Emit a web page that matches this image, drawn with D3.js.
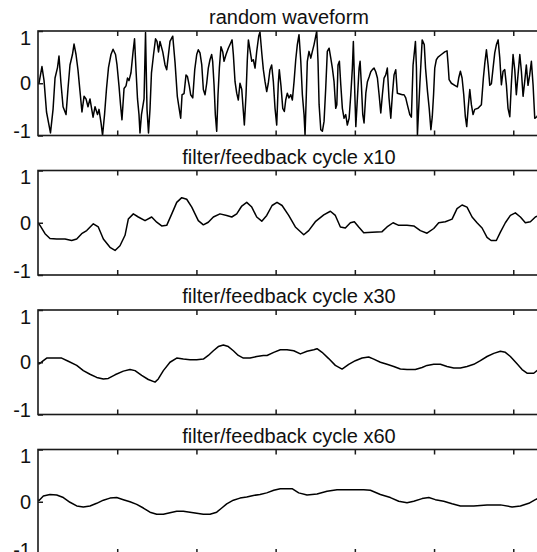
<!DOCTYPE html>
<html>
<head>
<meta charset="utf-8">
<script src="https://cdn.jsdelivr.net/npm/d3@7"></script>
<style>
  body { margin: 0; background: #fff; }
  svg { display: block; font-family: "Liberation Sans", Arial, sans-serif; }
</style>
</head>
<body>
<svg id="chart"></svg>
<script>
const panelTitles = ["random waveform", "filter/feedback cycle x10", "filter/feedback cycle x30", "filter/feedback cycle x60"];
const yTickValues = [-1, 0, 1];
const xTickValues = [80, 160, 240, 320, 400, 480];

// [sample, value]
const randomWave = [[0,0],[1,0],[4,0.32],[6.1,0.05],[8.6,-0.55],[11.1,-0.8],[12.6,-0.95],[15.2,-0.5],[17.2,0.1],[19.7,0.3],[21.2,0.52],[23.2,0],[25.3,-0.45],[28.3,-0.6],[30.3,-0.1],[32.3,0.35],[34.8,0.55],[36.4,0.75],[38.4,0.55],[40.4,0.25],[42.4,-0.15],[44.4,-0.55],[46.5,-0.25],[48.5,-0.3],[50.5,-0.45],[52.5,-0.3],[55.6,-0.65],[57.6,-0.45],[60.1,-0.6],[61.6,-0.5],[63.6,-0.75],[65.2,-1],[67.2,-0.6],[69.2,-0.1],[71.2,0.3],[73.7,0.55],[75.8,0.65],[78.3,0.55],[79.8,0.35],[81.8,-0.05],[83.3,-0.4],[84.8,-0.7],[86.9,-0.1],[88.9,-0.05],[90.4,0.1],[91.9,0.05],[93.9,0.2],[96,0.6],[97.5,0.85],[99,0.25],[100.5,-0.3],[102,-0.6],[103,-0.95],[104.5,-0.6],[107.1,-0.3],[108.6,0.97],[110.1,-0.5],[111.6,-0.95],[113.1,-0.5],[114.6,0.2],[116.7,0.55],[118.7,0.85],[120.2,0.8],[121.7,0.6],[123.2,0.8],[126,0.6],[128.3,0.35],[130,0.26],[133.3,0.8],[136.1,0.9],[138.4,0.4],[140.7,-0.25],[142.7,-0.5],[144.1,-0.67],[145.5,-0.22],[147.5,-0.2],[149.5,0.16],[150.9,0.13],[152.8,-0.05],[154.2,-0.22],[156.3,-0.28],[158.3,0.26],[160.3,0.55],[161.9,0.64],[163.6,0.58],[165.4,0.35],[167,-0.12],[168.7,-0.22],[170.4,0],[172,0.29],[173.7,0.45],[175.4,0.55],[176.4,0.42],[177.8,-0.03],[179.1,-0.6],[180.5,-0.92],[181.8,-0.22],[183.2,0.3],[184.8,0.7],[186.6,0.6],[187.9,0.42],[189.9,0.55],[192.2,0.67],[194.6,0.77],[196,0.83],[197.3,0.55],[199,0.03],[200.7,-0.19],[202.3,-0.32],[204,0],[205.8,-0.12],[207.4,-0.54],[208.4,-0.8],[210.1,-0.22],[211.4,0.45],[212.5,0.83],[214.1,0.64],[215.9,0.42],[217.5,0.45],[219.2,0.29],[220.9,0.61],[222.9,0.9],[224.2,0.98],[226,0.58],[227.6,0.26],[229.3,0.03],[231,-0.16],[232.6,0],[234.3,0.26],[236,0.35],[237.7,0.03],[239.4,-0.48],[241.1,-0.8],[242.7,0],[243.7,0.26],[245.4,-0.05],[247.2,-0.48],[248.8,-0.54],[250.2,-0.32],[251.8,-0.19],[253.5,-0.28],[255.3,-0.22],[256.9,-0.32],[258.6,0.03],[260.3,0.45],[261.9,0.74],[263.6,0.93],[265.4,0.42],[267,-0.22],[268.7,-0.6],[269.7,-0.99],[271,-0.22],[272,0.42],[273.7,0.61],[275.5,0.48],[277.1,0.61],[278.8,0.74],[280.5,0.9],[281.5,1],[282.8,0.42],[283.9,-0.41],[285.6,-0.89],[287.2,-0.92],[288.9,-0.73],[290.6,-0.09],[292.2,0.61],[294,0.67],[295.7,0.48],[297.3,0.29],[299,0.03],[300.7,-0.48],[301.8,-0.41],[303,0.35],[304.4,0.42],[305.8,-0.03],[307.4,-0.48],[309.1,-0.67],[310.8,-0.6],[312.4,-0.8],[314.2,-0.67],[315.9,-0.22],[317.5,0.29],[318.5,0.8],[320,-0.22],[321,-0.83],[322.6,-0.28],[324.3,0.29],[325.3,0.42],[326.6,-0.03],[328,-0.6],[329.3,-0.76],[331.1,-0.19],[332.7,0.03],[334.4,0.12],[336.1,0.22],[337.7,0.26],[339.4,0.29],[341.1,0.22],[342.8,0.1],[344.5,-0.22],[346.2,-0.57],[347.8,-0.22],[349.5,0.1],[351.2,0.16],[352.8,0.29],[354.5,-0.28],[356.3,-0.67],[357.9,-0.22],[359.6,0.16],[361.3,0.26],[362.9,-0.19],[368,-0.22],[369.7,-0.22],[371.4,-0.28],[373,-0.41],[375.5,-0.6],[377.1,-0.65],[378.8,0.35],[381.2,0.8],[382.2,0.3],[383.2,-0.99],[385.7,0],[388,0.83],[390.1,0.74],[391.4,0.29],[393.4,-0.16],[395.1,-0.48],[396.8,-0.89],[398.2,-0.64],[399.5,-0.22],[400.7,0.29],[402.3,0.45],[404,0.5],[407.4,0.55],[410.8,0.6],[413.1,0.62],[414.2,0.36],[415.2,0.07],[417.5,0],[420.9,-0.04],[423.5,-0.07],[424.9,0.1],[426.6,0.23],[428.3,0.1],[430,-0.22],[431.6,-0.64],[433,-0.83],[434.4,-0.48],[436.1,-0.12],[437.7,-0.41],[439.4,-0.6],[441.1,-0.5],[444.4,-0.48],[447.8,-0.41],[449.8,0.1],[451.3,0.39],[452.9,0.64],[454.6,0.35],[456.3,-0.04],[457.9,-0.01],[459.6,0.29],[461.3,0.58],[463,0.74],[464.7,0.83],[466.4,0.48],[468,-0.03],[469.7,0.23],[471.4,0.26],[473.1,-0.04],[474.7,-0.48],[476.5,-0.64],[478.1,0],[479.8,0.55],[481.5,0.26],[483.1,-0.22],[484.8,0.16],[486.6,0.55],[488.2,0.23],[489.9,-0.25],[491.6,0.04],[493.2,0.35],[494.9,-0.04],[496.6,0.16],[498.3,0.42],[500,-0.03],[501.7,-0.67],[504,-0.64],[507,-0.5]];

const cycle10 = [[0,0],[2,-0.05],[7.1,-0.21],[12.1,-0.3],[18.9,-0.31],[27.3,-0.31],[34,-0.34],[39.1,-0.31],[44.1,-0.21],[49.2,-0.15],[55.9,-0.02],[60.9,-0.08],[66,-0.31],[72.7,-0.47],[77.8,-0.53],[82.8,-0.44],[87.9,-0.24],[91.2,0.07],[96.3,0.17],[101.3,0.11],[108.1,0.04],[114.8,0.11],[119.9,0.01],[124.9,-0.06],[130,-0.05],[135.1,0.17],[140.1,0.39],[145.2,0.48],[150.2,0.45],[155.3,0.3],[161.9,0.04],[167,-0.04],[172,0.01],[177.1,0.11],[183.8,0.17],[190.6,0.14],[195.7,0.11],[200.7,0.17],[205.8,0.32],[210.8,0.39],[215.9,0.3],[220.9,0.11],[226,0.03],[231,0.14],[236.4,0.33],[241.4,0.39],[246.5,0.33],[253.2,0.14],[259.9,-0.08],[268.4,-0.23],[273.4,-0.15],[280.1,0.02],[288.6,0.15],[295.3,0.22],[300.3,0.14],[305.4,-0.08],[310.4,-0.1],[315.5,0],[319.5,0.02],[323.9,-0.08],[329,-0.19],[337.4,-0.18],[347.5,-0.17],[352.5,-0.08],[358.6,0],[364.3,-0.05],[372.7,-0.05],[379.5,-0.06],[386.2,-0.15],[392.9,-0.2],[399.7,-0.11],[404.7,0],[411.4,0.02],[418.2,0.07],[423.2,0.27],[428.3,0.34],[433.3,0.3],[438.4,0.11],[443.4,0],[448.5,-0.1],[453.5,-0.28],[457.6,-0.34],[462.9,-0.34],[467,-0.18],[472,0],[477.1,0.14],[482.1,0.19],[487.2,0.11],[492.2,0],[497.3,0.02],[502.3,0.11],[507,0.15]];

const cycle30 = [[0,-0.03],[1.3,-0.03],[5.4,0.03],[8.8,0.08],[15.5,0.08],[23.9,0.08],[30.6,0.02],[39.1,-0.06],[45.8,-0.16],[52.5,-0.23],[59.3,-0.29],[66,-0.32],[71,-0.31],[77.8,-0.24],[86.2,-0.17],[92.9,-0.14],[98,-0.16],[104.7,-0.25],[111.4,-0.33],[118.2,-0.38],[121.5,-0.32],[126.6,-0.16],[133.3,0],[140.1,0.08],[146.8,0.06],[153.5,0.05],[160.3,0.05],[167,0.06],[172,0.13],[177.1,0.22],[182.1,0.3],[187.2,0.33],[192.2,0.3],[197.3,0.22],[202.3,0.13],[207.4,0.08],[214.1,0.08],[220.9,0.11],[227.6,0.13],[231.3,0.13],[238.1,0.19],[244.7,0.24],[251.5,0.24],[258.3,0.22],[265,0.16],[271.7,0.21],[278.5,0.24],[281.8,0.26],[286.9,0.19],[293.6,0.07],[300.3,-0.06],[307.1,-0.13],[313.8,-0.04],[320.5,0.03],[327.3,0.08],[334,0.1],[339.1,0.06],[345.8,0],[352.5,-0.04],[359.3,-0.08],[366,-0.13],[372.7,-0.14],[381.1,-0.14],[387.9,-0.1],[392.9,-0.06],[399.7,-0.04],[406.4,-0.04],[413.1,-0.08],[419.9,-0.11],[426.6,-0.11],[433.3,-0.08],[440.1,-0.04],[446.8,0.03],[453.5,0.11],[460.3,0.17],[467,0.21],[472,0.19],[477.1,0.11],[483.8,-0.03],[488.9,-0.14],[493.9,-0.21],[500.7,-0.21],[504,-0.16],[507,-0.12]];

const cycle60 = [[0,0.03],[1.3,0.03],[5.4,0.11],[12.1,0.14],[18.9,0.13],[25.6,0.08],[32.3,-0.01],[39.1,-0.08],[45.8,-0.1],[52.5,-0.08],[59.3,-0.03],[66,0.03],[72.7,0.07],[79.5,0.08],[86.2,0.04],[92.9,0],[99.7,-0.05],[106.4,-0.12],[113.1,-0.2],[119.9,-0.24],[126.6,-0.24],[133.3,-0.21],[140.1,-0.18],[146.8,-0.18],[153.5,-0.2],[160.3,-0.22],[167,-0.24],[173.7,-0.24],[180.5,-0.2],[185.6,-0.12],[190.6,-0.04],[197.3,0.03],[204,0.07],[210.8,0.09],[217.5,0.12],[224.2,0.14],[231,0.17],[238.1,0.22],[244.7,0.25],[256.6,0.25],[263.3,0.17],[271.7,0.13],[281.8,0.15],[291.9,0.2],[302,0.23],[315.5,0.23],[329,0.23],[335.7,0.22],[345.8,0.14],[355.9,0.08],[364.3,0.01],[372.7,-0.02],[379.5,0.01],[387.9,0.06],[394.7,0.08],[401.3,0.04],[409.8,0.01],[418.2,-0.04],[426.6,-0.08],[440.1,-0.08],[453.5,-0.06],[467,-0.06],[478.8,-0.1],[487.2,-0.08],[495.7,-0.03],[502.3,0.04],[507,0.08]];

const series = [randomWave, cycle10, cycle30, cycle60];

const width = 537, height = 552;
const plotLeft = 38, plotRight = 540;
const firstTop = 31, panelStep = 139.5, panelHeight = 104.5;
const ink = "#111";

const svg = d3.select("#chart").attr("width", width).attr("height", height);

const x = d3.scaleLinear().domain([0, 507]).range([plotLeft, plotRight]);

series.forEach((data, i) => createPanel(data, panelTitles[i], firstTop + i * panelStep, i));

function createPanel(data, title, top, i) {
  const g = svg.append("g").attr("transform", `translate(0, ${top})`);
  const y = d3.scaleLinear().domain([-1, 1]).range([panelHeight, 0]);

  g.append("clipPath").attr("id", "clip" + i)
    .append("rect")
    .attr("x", plotLeft).attr("y", 0)
    .attr("width", plotRight - plotLeft).attr("height", panelHeight);

  // signal
  g.append("path")
    .datum(data)
    .attr("clip-path", `url(#clip${i})`)
    .attr("fill", "none")
    .attr("stroke", "#000")
    .attr("stroke-width", 1.5)
    .attr("stroke-linejoin", "round")
    .attr("d", d3.line().x(d => x(d[0])).y(d => y(d[1])));

  // box
  g.append("rect")
    .attr("x", plotLeft).attr("y", 0)
    .attr("width", plotRight - plotLeft).attr("height", panelHeight)
    .attr("fill", "none")
    .attr("stroke", "#1a1a1a")
    .attr("stroke-width", 1.6);

  // inward ticks top and bottom
  const top_ = g.append("g")
    .call(d3.axisTop(x).tickValues(xTickValues).tickSize(-5).tickFormat(""));
  const bot = g.append("g")
    .attr("transform", `translate(0, ${panelHeight})`)
    .call(d3.axisBottom(x).tickValues(xTickValues).tickSize(-5).tickFormat(""));
  [top_, bot].forEach(a => {
    a.select(".domain").remove();
    a.selectAll("line").attr("stroke", "#1a1a1a").attr("stroke-width", 1.5);
  });

  const left = g.append("g")
    .attr("transform", `translate(${plotLeft}, 0)`)
    .call(d3.axisLeft(y).tickValues(yTickValues).tickSize(-5).tickPadding(7).tickFormat(d => String(d)));
  left.select(".domain").remove();
  left.selectAll("line").attr("stroke", "#1a1a1a").attr("stroke-width", 1.5);
  left.selectAll("text")
    .attr("font-size", 20)
    .attr("font-family", "Liberation Sans, Arial, sans-serif")
    .attr("fill", ink)
    .attr("y", d => d === 1 ? 7 : d === -1 ? -4 : 0);

  g.append("text")
    .attr("x", (plotLeft + plotRight) / 2)
    .attr("y", -7)
    .attr("text-anchor", "middle")
    .attr("font-size", 20)
    .attr("fill", ink)
    .text(title);
}
</script>
</body>
</html>
